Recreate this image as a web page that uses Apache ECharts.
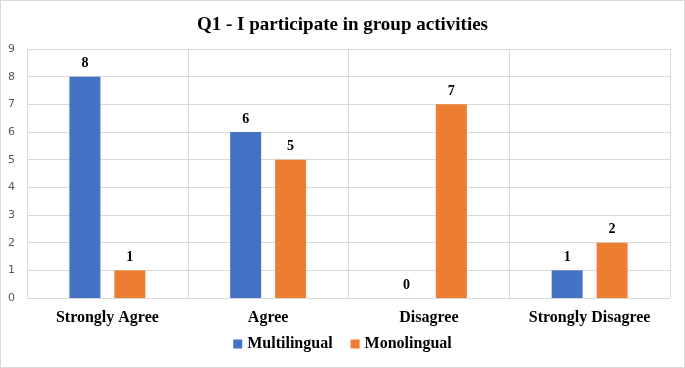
<!DOCTYPE html>
<html><head><meta charset="utf-8">
<script src="https://cdn.jsdelivr.net/npm/echarts@6/dist/echarts.min.js"></script>
<style>html,body{margin:0;padding:0;background:#fff}#c{width:685px;height:368px;box-sizing:border-box;border:1px solid #d9d9d9}</style>
</head><body><div id="c"></div>
<script>
const categories = ['Strongly Agree', 'Agree', 'Disagree', 'Strongly Disagree'];
const multilingual = [8, 6, 0, 1];
const monolingual = [1, 5, 7, 2];
const yTicks = [0, 9, 1];
const chart = echarts.init(document.getElementById('c'), null, {renderer: 'canvas'});
const serif = '"Liberation Serif", "Times New Roman", serif';
const lbl = {show: true, position: 'top', fontFamily: serif, fontWeight: 'bold', fontSize: 14, color: '#000', distance: 6};
chart.setOption({
  animation: false,
  title: {text: 'Q1 - I participate in group activities', left: 'center', top: 10,
    textStyle: {fontFamily: serif, fontWeight: 'bold', fontSize: 19, color: '#000'}},
  legend: {bottom: 10, itemWidth: 9, itemHeight: 9, itemGap: 18,
    textStyle: {fontFamily: serif, fontWeight: 'bold', fontSize: 16, color: '#000'},
    data: [{name: 'Multilingual', icon: 'rect'}, {name: 'Monolingual', icon: 'rect'}]},
  grid: {left: 26, right: 14, top: 48, bottom: 69, containLabel: false},
  xAxis: {type: 'category', data: categories,
    axisLine: {lineStyle: {color: '#d9d9d9'}}, axisTick: {show: false},
    splitLine: {show: true, lineStyle: {color: '#d9d9d9'}},
    axisLabel: {fontFamily: serif, fontWeight: 'bold', fontSize: 16, color: '#000', margin: 12}},
  yAxis: {type: 'value', min: yTicks[0], max: yTicks[1], interval: yTicks[2],
    axisLine: {show: true, lineStyle: {color: '#d9d9d9'}},
    splitLine: {lineStyle: {color: '#d9d9d9'}},
    axisLabel: {fontFamily: '"DejaVu Sans", Verdana, sans-serif', fontSize: 11, color: '#595959', margin: 12}},
  series: [
    {name: 'Multilingual', type: 'bar', data: multilingual, barWidth: 31, barGap: '45%',
      itemStyle: {color: '#4472C4'}, label: lbl},
    {name: 'Monolingual', type: 'bar', data: monolingual, barWidth: 31,
      itemStyle: {color: '#ED7D31'}, label: lbl}
  ]
});
</script></body></html>
